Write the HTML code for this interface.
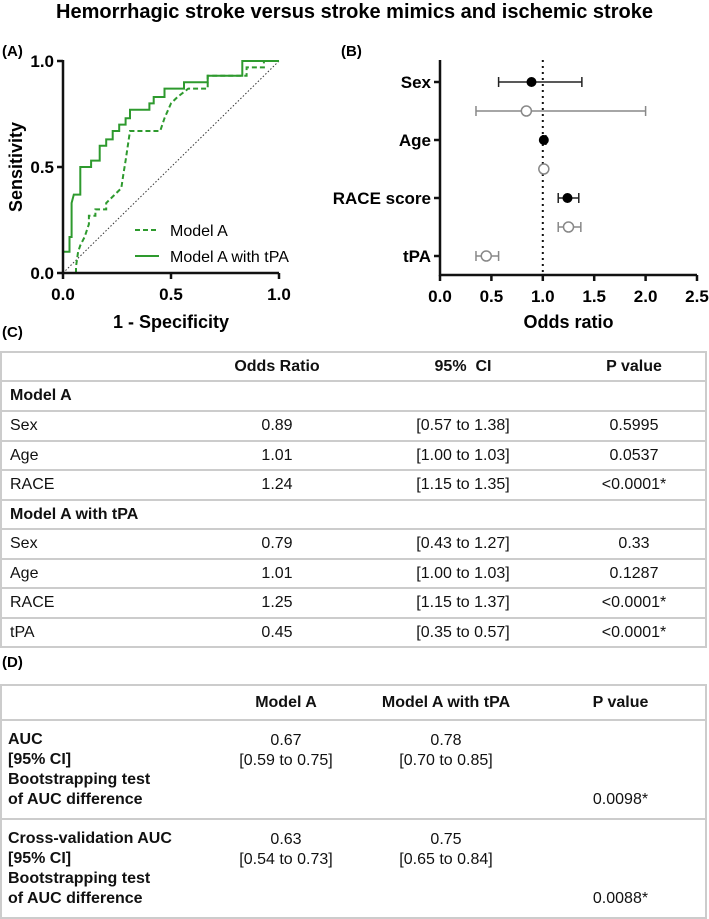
<!DOCTYPE html>
<html><head><meta charset="utf-8">
<style>
body{margin:0;width:709px;height:918px;background:#fff;font-family:"Liberation Sans",Arial,sans-serif;position:relative;overflow:hidden}
.abs{position:absolute}
.lbl{font-size:15px;font-weight:bold}
table{border-collapse:collapse;position:absolute;left:0;width:707px;font-size:16px;color:#111;border:2px solid #ccc}
td{border-top:2px solid #ccc;border-bottom:2px solid #ccc;border-left:none;border-right:none;padding:0 0 0 8px;}
td.c{text-align:center;padding:0}
.b{font-weight:bold}
</style></head><body>
<div class="abs" style="left:0;width:709px;top:1px;text-align:center;font-size:20px;font-weight:bold">Hemorrhagic stroke versus stroke mimics and ischemic stroke</div>
<div class="abs lbl" style="left:2px;top:43px">(A)</div>
<div class="abs lbl" style="left:341px;top:43px">(B)</div>
<div class="abs lbl" style="left:2px;top:324px">(C)</div>
<div class="abs lbl" style="left:2px;top:654px">(D)</div>

<svg class="abs" style="left:0;top:0" width="709" height="340">
<g id="roc"></g><g id="forest"></g>
</svg>

<table style="top:351px">
<colgroup><col style="width:190px"><col style="width:172px"><col style="width:200px"><col></colgroup>
<tr style="height:29px"><td></td><td class="c b">Odds Ratio</td><td class="c b">95%&nbsp; CI</td><td class="c b">P value</td></tr>
<tr style="height:30px"><td class="b" colspan="4">Model A</td></tr>
<tr style="height:30px"><td>Sex</td><td class="c">0.89</td><td class="c">[0.57 to 1.38]</td><td class="c">0.5995</td></tr>
<tr style="height:29px"><td>Age</td><td class="c">1.01</td><td class="c">[1.00 to 1.03]</td><td class="c">0.0537</td></tr>
<tr style="height:30px"><td>RACE</td><td class="c">1.24</td><td class="c">[1.15 to 1.35]</td><td class="c">&lt;0.0001*</td></tr>
<tr style="height:29px"><td class="b" colspan="4">Model A with tPA</td></tr>
<tr style="height:30px"><td>Sex</td><td class="c">0.79</td><td class="c">[0.43 to 1.27]</td><td class="c">0.33</td></tr>
<tr style="height:29px"><td>Age</td><td class="c">1.01</td><td class="c">[1.00 to 1.03]</td><td class="c">0.1287</td></tr>
<tr style="height:30px"><td>RACE</td><td class="c">1.25</td><td class="c">[1.15 to 1.37]</td><td class="c">&lt;0.0001*</td></tr>
<tr style="height:29px"><td>tPA</td><td class="c">0.45</td><td class="c">[0.35 to 0.57]</td><td class="c">&lt;0.0001*</td></tr>
</table>

<table style="top:684px;line-height:20px">
<colgroup><col style="width:215px"><col style="width:140px"><col style="width:180px"><col></colgroup>
<tr style="height:35px"><td></td><td class="c b">Model A</td><td class="c b">Model A with tPA</td><td class="c b">P value</td></tr>
<tr style="height:99px"><td class="b" style="padding-left:6px">AUC<br>[95% CI]<br>Bootstrapping test<br>of AUC difference</td><td class="c" style="vertical-align:top;padding-top:10px">0.67<br>[0.59 to 0.75]</td><td class="c" style="vertical-align:top;padding-top:10px">0.78<br>[0.70 to 0.85]</td><td class="c" style="vertical-align:bottom;padding-bottom:8px">0.0098*</td></tr>
<tr style="height:99px"><td class="b" style="padding-left:6px">Cross-validation AUC<br>[95% CI]<br>Bootstrapping test<br>of AUC difference</td><td class="c" style="vertical-align:top;padding-top:10px">0.63<br>[0.54 to 0.73]</td><td class="c" style="vertical-align:top;padding-top:10px">0.75<br>[0.65 to 0.84]</td><td class="c" style="vertical-align:bottom;padding-bottom:8px">0.0088*</td></tr>
</table>

<script>
// ROC data
const fprA = [0.06,0.06,0.07,0.08,0.10,0.12,0.12,0.15,0.15,0.20,0.20,0.24,0.27,0.28,0.29,0.30,0.31,0.45,0.47,0.50,0.53,0.58,0.67,0.67,0.85,0.85,0.93,0.93,1.0];
const tprA = [0.00,0.03,0.10,0.13,0.17,0.23,0.27,0.27,0.30,0.30,0.33,0.37,0.40,0.47,0.53,0.60,0.67,0.67,0.73,0.80,0.83,0.87,0.87,0.93,0.93,0.97,0.97,1.00,1.0];
const fprT = [0,0,0.03,0.03,0.04,0.04,0.05,0.08,0.08,0.13,0.13,0.17,0.17,0.20,0.20,0.23,0.23,0.26,0.26,0.29,0.29,0.31,0.31,0.40,0.40,0.42,0.42,0.47,0.47,0.56,0.56,0.67,0.67,0.83,0.83,1.0];
const tprT = [0,0.10,0.10,0.17,0.17,0.33,0.37,0.37,0.50,0.50,0.53,0.53,0.60,0.60,0.63,0.63,0.67,0.67,0.70,0.70,0.73,0.73,0.77,0.77,0.80,0.80,0.83,0.83,0.87,0.87,0.90,0.90,0.93,0.93,1.00,1.0];
const rocTicks = [0, 0.5, 1.0];
const rocTickLabels = ["0.0","0.5","1.0"];
// Forest data
const forestRows = ["Sex","Age","RACE score","tPA"];
const orA = [0.89, 1.01, 1.24];
const loA = [0.57, 1.00, 1.15];
const hiA = [1.38, 1.03, 1.35];
const orT = [0.84, 1.01, 1.25, 0.45];
const loT = [0.35, 1.00, 1.15, 0.35];
const hiT = [2.00, 1.03, 1.37, 0.57];
const orTicks = [0,0.5,1,1.5,2,2.5];
const orTickLabels = ["0.0","0.5","1.0","1.5","2.0","2.5"];

const NS="http://www.w3.org/2000/svg";
function mk(parent,tag,attrs,text){const e=document.createElementNS(NS,tag);for(const k in attrs)e.setAttribute(k,attrs[k]);if(text!==undefined)e.textContent=text;parent.appendChild(e);return e;}

// ROC
const roc=document.getElementById('roc');
const rx=v=>63+v*216, ry=v=>273-v*212;
let e;
e=mk(roc,'line',{x1:rx(0),y1:ry(0),x2:rx(1),y2:ry(1),stroke:'#333','stroke-width':1,'stroke-dasharray':'1.5,2'});

function pathOf(xs,ys){return xs.map((x,i)=>(i?'L':'M')+rx(x).toFixed(1)+','+ry(ys[i]).toFixed(1)).join(' ');}
e=mk(roc,'path',{d:pathOf(fprA,tprA),fill:'none',stroke:'#2e9a2e','stroke-width':2,'stroke-dasharray':'5,3'});

e=mk(roc,'path',{d:pathOf(fprT,tprT),fill:'none',stroke:'#2e9a2e','stroke-width':2});

e=mk(roc,'path',{d:`M${rx(0)},${ry(1)-1} V${ry(0)} H${rx(1)}`,fill:'none',stroke:'#111','stroke-width':2.5});

rocTicks.forEach((t,i)=>{
  mk(roc,'line',{x1:rx(t),x2:rx(t),y1:ry(0),y2:ry(0)+6,stroke:'#111','stroke-width':2.5});
  mk(roc,'line',{x1:rx(0)-6,x2:rx(0),y1:ry(t),y2:ry(t),stroke:'#111','stroke-width':2.5});
  e=mk(roc,'text',{x:rx(t),y:ry(0)+27,'text-anchor':'middle','font-size':17,'font-weight':'bold'},rocTickLabels[i]);
  
  e=mk(roc,'text',{x:rx(0)-9,y:ry(t)+6,'text-anchor':'end','font-size':17,'font-weight':'bold'},rocTickLabels[i]);
  
});
e=mk(roc,'text',{x:171,y:328,'text-anchor':'middle','font-size':18,'font-weight':'bold'},'1 - Specificity');

e=mk(roc,'text',{x:22,y:167,'text-anchor':'middle','font-size':18,'font-weight':'bold',transform:'rotate(-90 22 167)'},'Sensitivity');

mk(roc,'line',{x1:135,x2:159,y1:230,y2:230,stroke:'#2e9a2e','stroke-width':2,'stroke-dasharray':'5,3'});
e=mk(roc,'text',{x:170,y:236,'font-size':16},'Model A');

mk(roc,'line',{x1:135,x2:159,y1:256,y2:256,stroke:'#2e9a2e','stroke-width':2});
e=mk(roc,'text',{x:170,y:262,'font-size':16},'Model A with tPA');


// Forest
const fo=document.getElementById('forest');
const fx=v=>440+v*102.8;
const rowY=i=>82+i*58, openY=i=>(i<3?111+i*58:256);
e=mk(fo,'line',{x1:fx(1),x2:fx(1),y1:60,y2:275,stroke:'#111','stroke-width':2,'stroke-dasharray':'2,4'});

e=mk(fo,'path',{d:`M440,60 V275 H${fx(2.5)}`,fill:'none',stroke:'#111','stroke-width':2.5});

orTicks.forEach((t,i)=>{
  mk(fo,'line',{x1:fx(t),x2:fx(t),y1:275,y2:281,stroke:'#111','stroke-width':2.5});
  e=mk(fo,'text',{x:fx(t),y:302,'text-anchor':'middle','font-size':17,'font-weight':'bold'},orTickLabels[i]);
  
});
forestRows.forEach((r,i)=>{
  const y=i<3?rowY(i):openY(3);
  mk(fo,'line',{x1:434,x2:440,y1:y,y2:y,stroke:'#111','stroke-width':2.5});
  e=mk(fo,'text',{x:431,y:y+6,'text-anchor':'end','font-size':17,'font-weight':'bold'},r);
  
});
function ci(y,lo,hi,col){
  mk(fo,'line',{x1:fx(lo),x2:fx(hi),y1:y,y2:y,stroke:col,'stroke-width':1.5});
  mk(fo,'line',{x1:fx(lo),x2:fx(lo),y1:y-5,y2:y+5,stroke:col,'stroke-width':1.5});
  mk(fo,'line',{x1:fx(hi),x2:fx(hi),y1:y-5,y2:y+5,stroke:col,'stroke-width':1.5});
}
orA.forEach((v,i)=>{
  ci(rowY(i),loA[i],hiA[i],'#222');
  e=mk(fo,'circle',{cx:fx(v),cy:rowY(i),r:5,fill:'#000'});
  
});
orT.forEach((v,i)=>{
  ci(openY(i),loT[i],hiT[i],'#888');
  e=mk(fo,'circle',{cx:fx(v),cy:openY(i),r:5,fill:'#fff',stroke:'#888','stroke-width':1.5});
  
});
e=mk(fo,'text',{x:fx(1.25),y:328,'text-anchor':'middle','font-size':18,'font-weight':'bold'},'Odds ratio');

</script>
</body></html>
